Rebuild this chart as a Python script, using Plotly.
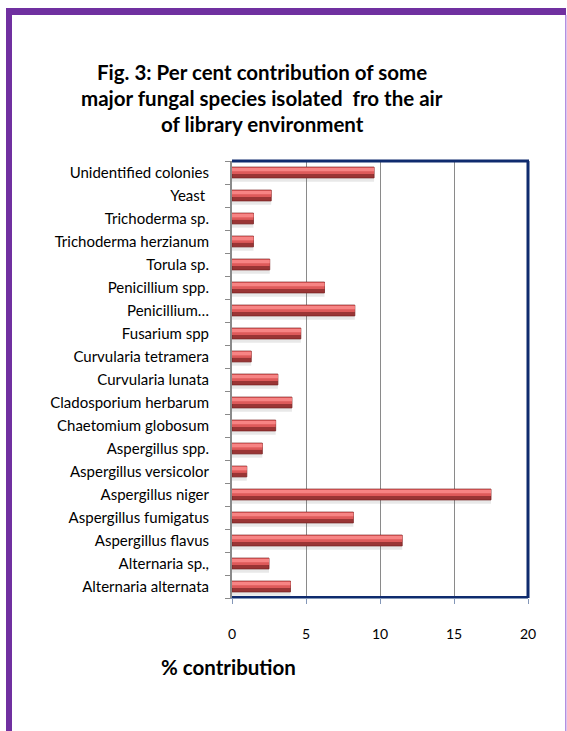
import plotly.graph_objects as go

W, H = 567, 731

# Categories listed bottom-to-top
species = [
    "Alternaria alternata", "Alternaria sp.,", "Aspergillus flavus",
    "Aspergillus fumigatus", "Aspergillus niger", "Aspergillus versicolor",
    "Aspergillus spp.", "Chaetomium globosum", "Cladosporium herbarum",
    "Curvularia lunata", "Curvularia tetramera", "Fusarium spp",
    "Penicillium…", "Penicillium spp.", "Torula sp.",
    "Trichoderma herzianum", "Trichoderma sp.", "Yeast ",
    "Unidentified colonies",
]
contribution = [
    3.95, 2.5, 11.5,
    8.2, 17.5, 1.0,
    2.05, 2.95, 4.05,
    3.1, 1.3, 4.65,
    8.3, 6.25, 2.55,
    1.45, 1.45, 2.65,
    9.6,
]
x_ticks = [0, 5, 10, 15, 20]

# pixel helpers
def px_x(p):
    return p / W

def px_y(p):
    return 1 - p / H

PL, PR, PT, PB = 232, 528, 161, 598

fig = go.Figure()

# soft shadow
fig.add_trace(go.Bar(
    y=species, x=contribution, orientation="h",
    width=0.30, offset=-0.40,
    marker=dict(color="rgba(110,110,110,0.16)", line=dict(width=0)),
    hoverinfo="skip", showlegend=False,
))
# dark base of bar
fig.add_trace(go.Bar(
    y=species, x=contribution, orientation="h",
    width=0.47, offset=-0.235,
    marker=dict(color="#9a3535", line=dict(color="#7a2424", width=0.8)),
    showlegend=False,
))
# mid red upper body
fig.add_trace(go.Bar(
    y=species, x=contribution, orientation="h",
    width=0.29, offset=-0.06,
    marker=dict(color="#de5a5a", line=dict(width=0)),
    hoverinfo="skip", showlegend=False,
))
# highlight
fig.add_trace(go.Bar(
    y=species, x=contribution, orientation="h",
    width=0.15, offset=0.05,
    marker=dict(color="#f78484", line=dict(width=0)),
    hoverinfo="skip", showlegend=False,
))

shapes = []
# navy plot frame: top, right, bottom
navy = "#0f2b6e"
shapes.append(dict(type="line", xref="paper", yref="paper",
                   x0=px_x(PL), x1=px_x(PR + 1), y0=px_y(PT), y1=px_y(PT),
                   line=dict(color=navy, width=3)))
shapes.append(dict(type="line", xref="paper", yref="paper",
                   x0=px_x(PR), x1=px_x(PR), y0=px_y(PT), y1=px_y(PB),
                   line=dict(color=navy, width=3)))
shapes.append(dict(type="line", xref="paper", yref="paper",
                   x0=px_x(PL), x1=px_x(PR), y0=px_y(PB - 1), y1=px_y(PB - 1),
                   line=dict(color=navy, width=2)))
# purple outer frame
purple = "#7030a0"
shapes.append(dict(type="rect", xref="paper", yref="paper",
                   x0=px_x(6), x1=px_x(12), y0=px_y(H + 5), y1=px_y(8),
                   fillcolor=purple, line=dict(width=0)))
shapes.append(dict(type="rect", xref="paper", yref="paper",
                   x0=px_x(6), x1=px_x(566), y0=px_y(15), y1=px_y(8),
                   fillcolor=purple, line=dict(width=0)))
shapes.append(dict(type="rect", xref="paper", yref="paper",
                   x0=px_x(565), x1=px_x(566.5), y0=px_y(H + 5), y1=px_y(15),
                   fillcolor="#b48fe0", line=dict(width=0)))

title_font = dict(family="Lato, Open Sans, sans-serif", size=20.5, color="#000000")
annotations = []
for i, line in enumerate([
    "<b>Fig. 3: Per cent contribution of some</b>",
    "<b>major fungal species isolated  fro the air</b>",
    "<b>of library environment</b>",
]):
    annotations.append(dict(
        text=line, xref="paper", yref="paper",
        x=px_x(262), y=px_y(72 + 26 * i), xanchor="center", yanchor="middle",
        showarrow=False, font=title_font,
    ))
annotations.append(dict(
    text="<b>% contribution</b>", xref="paper", yref="paper",
    x=px_x(228), y=px_y(667), xanchor="center", yanchor="middle",
    showarrow=False, font=title_font,
))

fig.update_layout(
    width=W, height=H, autosize=False,
    margin=dict(l=0, r=0, t=0, b=0),
    paper_bgcolor="white", plot_bgcolor="white",
    barmode="overlay",
    bargap=0.5,
    shapes=shapes,
    annotations=annotations,
    font=dict(family="Lato, Open Sans, sans-serif", size=15, color="#000000"),
    xaxis=dict(
        domain=[px_x(PL), px_x(PR)],
        range=[0, 20], tickvals=x_ticks, ticktext=[str(v) for v in x_ticks],
        showgrid=True, gridcolor="#8a8a8a", gridwidth=1,
        zeroline=False,
        showline=True, linecolor="#8497b8", linewidth=1,
        ticks="outside", ticklen=5, tickcolor="#8497b8",
        tickfont=dict(size=14),
        ticklabelstandoff=18,
        automargin=False, fixedrange=True,
    ),
    yaxis=dict(
        domain=[px_y(PB), px_y(PT)],
        type="category", categoryorder="array", categoryarray=species,
        range=[-0.5, len(species) - 0.5],
        showgrid=False, zeroline=False,
        showline=True, linecolor="#8a8a8a", linewidth=2,
        ticks="outside", tickson="boundaries", ticklen=5, tickcolor="#8a8a8a",
        tickfont=dict(size=15),
        ticklabelstandoff=18,
        automargin=False, fixedrange=True,
    ),
)

fig.write_html(
    "out.html",
    config={"displayModeBar": False},
    post_script="document.body.style.margin='0';document.body.style.overflow='hidden';",
)
